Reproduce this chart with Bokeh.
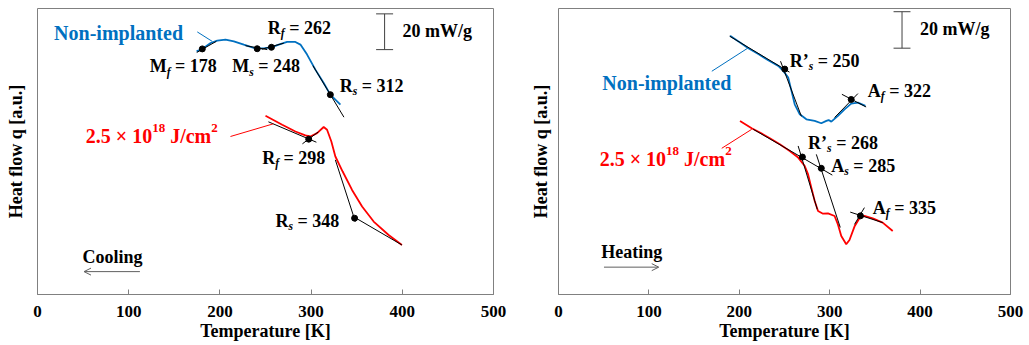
import math
from bokeh.plotting import figure
from bokeh.models import Range1d, Label, Arrow, OpenHead, FixedTicker
from bokeh.layouts import row
from bokeh.embed import file_html
from bokeh.resources import INLINE

# ---------------- data ----------------
# Cooling (left panel)
cool_non_T = [174.4, 180.7, 189.8, 197.1, 206.2, 215.3, 226.2, 235.4, 240.9, 248.9, 256.5,
              264.5, 273.7, 282.8, 288.3, 295.6, 304.7, 313.8, 321.1, 332.1]
cool_non_q = [136.0, 137.4, 140.7, 142.0, 142.6, 141.6, 139.8, 138.3, 137.5, 137.8, 138.3,
              139.8, 141.3, 141.3, 139.8, 134.2, 125.8, 118.3, 111.8, 106.2]
cool_imp_T = [250.0, 268.3, 282.8, 293.7, 299.2, 306.6, 313.8, 317.5, 322.2, 326.6, 334.6,
              344.9, 355.9, 368.6, 385.0, 399.6]
cool_imp_q = [100.0, 95.0, 91.2, 89.0, 88.4, 90.3, 93.7, 92.2, 85.6, 77.2, 68.8,
              58.5, 49.2, 40.8, 33.3, 27.7]
# Heating (right panel)
heat_non_T = [189.8, 200.8, 210.0, 221.0, 232.0, 243.1, 248.6, 254.1, 257.7, 261.3, 266.9,
              274.2, 283.4, 290.7, 296.3, 298.8, 301.8, 309.1, 316.4, 323.8, 331.2, 339.5]
heat_non_q = [144.7, 141.0, 137.8, 134.5, 131.1, 127.9, 125.1, 121.4, 113.9, 106.4, 100.8,
              98.0, 97.1, 95.8, 97.1, 97.6, 96.7, 99.9, 103.6, 106.8, 107.3, 105.5]
heat_imp_T = [200.8, 213.7, 222.8, 233.8, 244.8, 255.8, 265.1, 272.4, 276.1, 279.7, 283.4,
              287.1, 292.6, 298.1, 305.4, 309.1, 312.8, 318.3, 321.9, 327.4, 332.9, 338.4,
              347.6, 358.6, 369.7]
heat_imp_q = [97.1, 93.0, 90.6, 87.4, 84.0, 80.3, 76.6, 71.9, 67.2, 59.8, 52.3,
              46.7, 45.2, 45.4, 43.9, 39.2, 32.7, 28.1, 30.5, 38.0, 42.7, 44.0,
              42.6, 40.2, 35.5]

# transformation points (marker positions)
cool_non_pt_T = [180.7, 240.9, 256.5, 321.1]
cool_non_pt_q = [137.4, 137.5, 138.3, 111.8]
cool_imp_pt_T = [297.4, 347.7]
cool_imp_pt_q = [86.9, 42.7]
heat_non_pt_T = [250.3, 323.8]
heat_non_pt_q = [126.1, 109.1]
heat_imp_pt_T = [269.8, 290.7, 334.0]
heat_imp_pt_q = [76.9, 70.6, 44.0]

# tangent construction lines (T0, q0, T1, q1)
cool_tan_T0 = [174.6, 228.0, 246.0, 302.0, 253.2, 290.5, 326.6, 344.9]
cool_tan_q0 = [135.4, 139.2, 137.2, 128.0, 96.6, 84.3, 75.3, 44.0]
cool_tan_T1 = [196.0, 252.0, 270.0, 336.0, 305.8, 308.0, 348.5, 399.6]
cool_tan_q1 = [141.6, 137.0, 140.6, 99.2, 85.2, 91.0, 40.8, 27.7]
heat_tan_T0 = [189.4, 245.6, 305.4, 313.5, 215.5, 265.1, 285.2, 322.7, 327.4]
heat_tan_q0 = [144.5, 130.5, 99.0, 112.0, 92.4, 83.1, 78.4, 46.1, 39.2]
heat_tan_T1 = [255.5, 268.7, 331.2, 340.3, 302.9, 286.3, 311.7, 358.7, 338.4]
heat_tan_q1 = [124.4, 99.7, 112.4, 104.9, 66.8, 47.6, 37.5, 40.2, 48.6]

x_ticks = [0, 100, 200, 300, 400, 500]

BLUE = "#0070C0"
RED = "#FF0000"
FONT = "Liberation Serif"

# Times-Bold widths (1/1000 em)
W_B = {' ': 250, '.': 250, '/': 278, '=': 570, '×': 570, '’': 333, '[': 333, ']': 333, '-': 333,
       'A': 722, 'J': 500, 'M': 944, 'N': 722, 'R': 722, 'H': 778, 'C': 722, 'W': 1000, 'K': 778,
       'T': 667, 'a': 500, 'c': 444, 'd': 556, 'e': 444, 'g': 500, 'i': 278, 'l': 278, 'm': 833,
       'n': 556, 'o': 500, 'p': 556, 't': 333, 'w': 722, 'f': 333, 's': 389, 'u': 556, 'r': 444,
       'q': 556}
W_BI = {'f': 333, 's': 389, 'q': 500}

FRAME_H = 286
PPY = FRAME_H / 160.0


def text_width(s, size, italic=False):
    tot = 0
    for ch in s:
        if ch.isdigit():
            tot += 500
        elif italic and ch in W_BI:
            tot += W_BI[ch]
        else:
            tot += W_B.get(ch, 500)
    return tot * size / 1000.0


def rich(p, x, y, pieces, size, color="black"):
    """pieces: list of (text, mode); mode: n (normal), i (italic), sub, sup"""
    off = 0.0
    for txt, mode in pieces:
        fs = size * 0.65 if mode in ("sub", "sup") else size
        italic = mode in ("sub", "i")
        stripped = txt.lstrip(" ")
        off += text_width(txt[:len(txt) - len(stripped)], fs, italic)
        dy = 0.0
        if mode == "sub":
            dy = -0.33 * size
        elif mode == "sup":
            dy = 0.40 * size
        lab = Label(x=x, y=y + dy / PPY, x_offset=off, text=stripped)
        lab.text_font = FONT
        lab.text_font_size = f"{fs:.1f}px"
        lab.text_font_style = "bold italic" if italic else "bold"
        lab.text_color = color
        lab.text_baseline = "middle"
        lab.text_align = "left"
        p.add_layout(lab)
        off += text_width(stripped, fs, italic)


def make_panel(width, border_left, border_right, ylab_standoff):
    p = figure(width=width, height=345, output_backend="svg", toolbar_location=None,
               x_range=Range1d(0, 500), y_range=Range1d(0, 160),
               min_border_left=border_left, min_border_right=border_right, min_border_top=8,
               min_border_bottom=345 - 8 - FRAME_H)
    p.xgrid.visible = False
    p.ygrid.visible = False
    p.outline_line_color = "#808080"
    p.outline_line_width = 1
    p.background_fill_color = "white"
    p.border_fill_color = "white"
    ax = p.xaxis[0]
    ax.ticker = FixedTicker(ticks=x_ticks)
    ax.axis_line_color = "#808080"
    ax.major_tick_line_color = "#808080"
    ax.major_tick_in = 5
    ax.major_tick_out = 0
    ax.minor_tick_line_color = None
    ax.major_label_standoff = 11
    ax.major_label_text_font = FONT
    ax.major_label_text_font_style = "bold"
    ax.major_label_text_font_size = "17px"
    ax.major_label_text_color = "black"
    ax.axis_label = "Temperature [K]"
    ax.axis_label_text_font = FONT
    ax.axis_label_text_font_style = "bold"
    ax.axis_label_text_font_size = "18px"
    ax.axis_label_text_color = "black"
    ax.axis_label_standoff = 1
    ay = p.yaxis[0]
    ay.ticker = FixedTicker(ticks=[])
    ay.axis_line_color = None
    ay.major_tick_line_color = None
    ay.minor_tick_line_color = None
    ay.major_tick_in = 0
    ay.major_tick_out = 0
    ay.major_label_text_font_size = "0px"
    ay.axis_label = "Heat flow q [a.u.]"
    ay.axis_label_text_font = FONT
    ay.axis_label_text_font_style = "bold"
    ay.axis_label_text_font_size = "18px"
    ay.axis_label_text_color = "black"
    ay.axis_label_standoff = ylab_standoff
    return p


def scale_bar(p, ppx, bar_T, bar_lo, bar_hi):
    half = 8.5 / ppx
    p.segment([bar_T, bar_T - half, bar_T - half], [bar_lo, bar_lo, bar_hi],
              [bar_T, bar_T + half, bar_T + half], [bar_hi, bar_lo, bar_hi],
              line_color="#404040", line_width=1)
    p.add_layout(Label(x=bar_T + 18 / ppx, y=(bar_lo + bar_hi) / 2 + 0.5, text="20 mW/g",
                       text_font=FONT, text_font_style="bold", text_font_size="18px",
                       text_baseline="middle", text_align="left", text_color="black"))


# ---------------- left panel: cooling ----------------
p1 = make_panel(527, 37, 34, 12)
ppx1 = 456 / 500.0
p1.line(cool_non_T, cool_non_q, line_color=BLUE, line_width=1.8)
p1.line(cool_imp_T, cool_imp_q, line_color=RED, line_width=1.8)
p1.segment(cool_tan_T0, cool_tan_q0, cool_tan_T1, cool_tan_q1, line_color="black", line_width=1)
p1.scatter(cool_non_pt_T, cool_non_pt_q, size=6, color="black")
p1.scatter(cool_imp_pt_T, cool_imp_pt_q, size=6, color="black")
# leader lines of the sample labels
p1.segment([175.2], [146.9], [191.6], [141.6], line_color=BLUE, line_width=1)
p1.segment([211.6], [88.4], [258.7], [95.5], line_color=RED, line_width=1)

p1.add_layout(Label(x=18.2, y=146.5, text="Non-implanted", text_font=FONT, text_font_style="bold",
                    text_font_size="20px", text_color=BLUE, text_baseline="middle"))
rich(p1, 52.9, 88.4, [("2.5 × 10", "n"), ("18", "sup"), (" J/cm", "n"), ("2", "sup")], 20,
     color=RED)
rich(p1, 123.0, 127.6, [("M", "n"), ("f", "sub"), (" = 178", "n")], 18)
rich(p1, 213.5, 127.6, [("M", "n"), ("s", "sub"), (" = 248", "n")], 18)
rich(p1, 252.5, 149.1, [("R", "n"), ("f", "sub"), (" = 262", "n")], 18)
rich(p1, 331.3, 116.8, [("R", "n"), ("s", "sub"), (" = 312", "n")], 18)
rich(p1, 246.4, 76.6, [("R", "n"), ("f", "sub"), (" = 298", "n")], 18)
rich(p1, 261.0, 41.2, [("R", "n"), ("s", "sub"), (" = 348", "n")], 18)
p1.add_layout(Label(x=49.3, y=21.2, text="Cooling", text_font=FONT, text_font_style="bold",
                    text_font_size="18px", text_baseline="middle", text_color="black"))
p1.add_layout(Arrow(end=OpenHead(size=7, line_color="#606060", line_width=1),
                    x_start=112.3, y_start=12.8, x_end=51.0, y_end=12.8,
                    line_color="#606060", line_width=1))
scale_bar(p1, ppx1, 380.6, 137.0, 157.0)

# ---------------- right panel: heating ----------------
p2 = make_panel(502, 29, 19, 8)
ppx2 = 454 / 500.0
p2.line(heat_non_T, heat_non_q, line_color=BLUE, line_width=1.8)
p2.line(heat_imp_T, heat_imp_q, line_color=RED, line_width=1.8)
p2.segment(heat_tan_T0, heat_tan_q0, heat_tan_T1, heat_tan_q1, line_color="black", line_width=1)
p2.scatter(heat_non_pt_T, heat_non_pt_q, size=6, color="black")
p2.scatter(heat_imp_pt_T, heat_imp_pt_q, size=6, color="black")
p2.segment([169.6], [124.9], [209.3], [137.8], line_color=BLUE, line_width=1)
p2.segment([180.6], [81.8], [213.7], [92.4], line_color=RED, line_width=1)

p2.add_layout(Label(x=48.5, y=118.6, text="Non-implanted", text_font=FONT, text_font_style="bold",
                    text_font_size="20px", text_color=BLUE, text_baseline="middle"))
rich(p2, 45.5, 75.6, [("2.5 × 10", "n"), ("18", "sup"), (" J/cm", "n"), ("2", "sup")], 20,
     color=RED)
rich(p2, 255.8, 130.7, [("R’", "n"), ("s", "sub"), (" = 250", "n")], 18)
rich(p2, 342.2, 113.9, [("A", "n"), ("f", "sub"), (" = 322", "n")], 18)
rich(p2, 276.1, 85.0, [("R’", "n"), ("s", "sub"), (" = 268", "n")], 18)
rich(p2, 301.8, 71.9, [("A", "n"), ("s", "sub"), (" = 285", "n")], 18)
rich(p2, 347.7, 48.6, [("A", "n"), ("f", "sub"), (" = 335", "n")], 18)
p2.add_layout(Label(x=47.4, y=23.9, text="Heating", text_font=FONT, text_font_style="bold",
                    text_font_size="18px", text_baseline="middle", text_color="black"))
p2.add_layout(Arrow(end=OpenHead(size=7, line_color="#606060", line_width=1),
                    x_start=50.3, y_start=15.3, x_end=110.9, y_end=15.3,
                    line_color="#606060", line_width=1))
scale_bar(p2, ppx2, 380.0, 137.8, 158.2)

layout = row(p1, p2)
open("out.html", "w").write(file_html(layout, INLINE))
